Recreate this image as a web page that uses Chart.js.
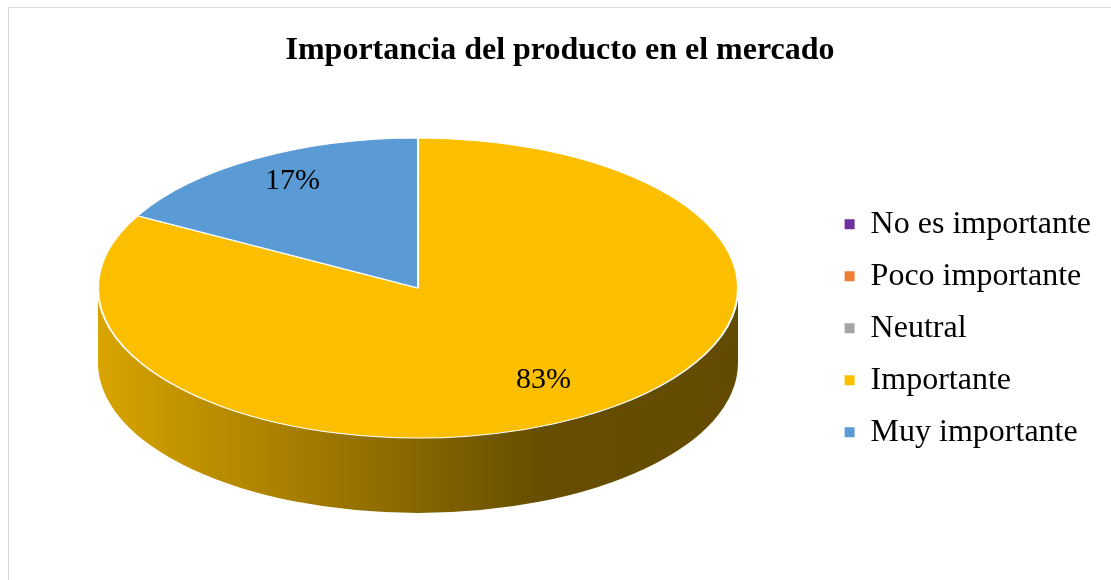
<!DOCTYPE html>
<html>
<head>
<meta charset="utf-8">
<script src="https://cdn.jsdelivr.net/npm/chart.js@4"></script>
<style>
  html, body { margin: 0; padding: 0; background: #fff; overflow: hidden; }
  #frame { position: absolute; left: 8px; top: 7px; width: 1200px; height: 700px; border: 1px solid #d9d9d9; }
  #wrap { position: absolute; left: 0; top: 0; width: 1111px; height: 580px; }
</style>
</head>
<body>
<div id="frame"></div>
<div id="wrap"><canvas id="chart" width="1111" height="580"></canvas></div>
<script>
const categories = ['No es importante', 'Poco importante', 'Neutral', 'Importante', 'Muy importante'];
const values = [0, 0, 0, 83, 17];
const colors = ['#7030A0', '#ED7D31', '#A5A5A5', '#FBBF00', '#5B9BD5'];
const chartTitle = 'Importancia del producto en el mercado';

// ellipse the flat pie gets squashed onto + thickness of the side wall
const PIE = { cx: 418, cy: 288, rx: 320, ry: 150, depth: 75 };
const FONT = "'Liberation Serif', 'Times New Roman', serif";

function shade(hex, k) {
  const n = parseInt(hex.slice(1), 16);
  const r = Math.round(((n >> 16) & 255) * k);
  const g = Math.round(((n >> 8) & 255) * k);
  const b = Math.round((n & 255) * k);
  return `rgb(${r},${g},${b})`;
}

const pie3d = {
  id: 'pie3d',
  beforeDatasetsDraw(chart) {
    const ctx = chart.ctx;
    const arcs = chart.getDatasetMeta(0).data;

    // side wall, only the part of each slice facing the viewer (0..PI)
    arcs.forEach((arc, i) => {
      const { startAngle, endAngle } = arc.getProps(['startAngle', 'endAngle'], true);
      if (endAngle - startAngle <= 0) return;
      [0, 2 * Math.PI].forEach(off => {
        const a0 = Math.max(startAngle, off);
        const a1 = Math.min(endAngle, off + Math.PI);
        if (a1 <= a0) return;
        const grad = ctx.createLinearGradient(PIE.cx - PIE.rx, 0, PIE.cx + PIE.rx, 0);
        grad.addColorStop(0, shade(colors[i], 0.86));
        grad.addColorStop(0.69, shade(colors[i], 0.41));
        grad.addColorStop(1, shade(colors[i], 0.39));
        ctx.save();
        ctx.beginPath();
        ctx.ellipse(PIE.cx, PIE.cy, PIE.rx, PIE.ry, 0, a0, a1);
        ctx.ellipse(PIE.cx, PIE.cy + PIE.depth, PIE.rx, PIE.ry, 0, a1, a0, true);
        ctx.closePath();
        ctx.fillStyle = grad;
        ctx.fill();
        ctx.restore();
      });
    });

    // squash the round pie into the ellipse
    const ref = arcs[0];
    const r = ref.outerRadius;
    ctx.save();
    ctx.translate(PIE.cx, PIE.cy);
    ctx.scale(PIE.rx / r, PIE.ry / r);
    ctx.translate(-ref.x, -ref.y);
  },
  afterDatasetsDraw(chart) {
    const ctx = chart.ctx;
    ctx.restore();
    const arcs = chart.getDatasetMeta(0).data;
    const total = values.reduce((a, b) => a + b, 0);
    ctx.save();
    ctx.font = `30px ${FONT}`;
    ctx.fillStyle = '#000';
    ctx.textAlign = 'center';
    ctx.textBaseline = 'middle';
    arcs.forEach((arc, i) => {
      if (!values[i]) return;
      const { startAngle, endAngle } = arc.getProps(['startAngle', 'endAngle'], true);
      const mid = (startAngle + endAngle) / 2;
      const x = PIE.cx + Math.cos(mid) * PIE.rx * 0.77;
      const y = PIE.cy - 7 + Math.sin(mid) * PIE.ry * 0.77;
      ctx.fillText(Math.round(values[i] / total * 100) + '%', x, y);
    });
    ctx.restore();
  }
};

new Chart(document.getElementById('chart'), {
  type: 'pie',
  data: {
    labels: categories,
    datasets: [{
      data: values,
      backgroundColor: colors,
      borderColor: '#ffffff',
      borderWidth: 1.5
    }]
  },
  options: {
    responsive: false,
    animation: false,
    layout: { padding: { left: 19, bottom: 18, right: 10 } },
    plugins: {
      title: {
        display: true,
        text: chartTitle,
        color: '#000',
        font: { family: FONT, size: 32, weight: 'bold' },
        padding: { top: 32, bottom: 24 }
      },
      legend: {
        position: 'right',
        align: 'center',
        fullSize: false,
        labels: {
          color: '#000',
          font: { family: FONT, size: 32 },
          boxWidth: 10,
          boxHeight: 10,
          padding: 20,
          generateLabels(chart) {
            return Chart.overrides.pie.plugins.legend.labels.generateLabels(chart)
              .map(l => Object.assign(l, { lineWidth: 0, strokeStyle: 'rgba(0,0,0,0)' }));
          }
        }
      },
      tooltip: { enabled: false }
    }
  },
  plugins: [pie3d]
});
</script>
</body>
</html>
